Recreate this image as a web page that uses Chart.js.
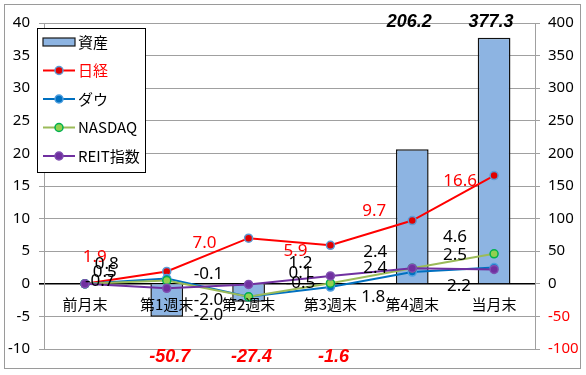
<!DOCTYPE html>
<html>
<head>
<meta charset="utf-8">
<script src="https://cdn.jsdelivr.net/npm/chart.js@4"></script>
<style>
  html, body { margin: 0; padding: 0; background: #fff; }
  canvas { display: block; }
</style>
</head>
<body>
<canvas id="chart" width="586" height="375"></canvas>
<script>
// Datos
const categories = ['前月末', '第1週末', '第2週末', '第3週末', '第4週末', '当月末'];
const assets = [null, -50.7, -27.4, -1.6, 206.2, 377.3];   // 資産 (eje derecho)
const nikkei = [0, 1.9, 7.0, 5.9, 9.7, 16.6];               // 日経
const dow = [0, 0.8, -2.0, -0.5, 1.8, 2.5];                 // ダウ
const nasdaq = [0, 0.5, -2.0, 0.1, 2.4, 4.6];               // NASDAQ
const reit = [0, -0.7, -0.1, 1.2, 2.4, 2.2];                // REIT指数
const leftMin = -10, leftMax = 40, leftStep = 5;
const rightMin = -100, rightMax = 400, rightStep = 50;

// Desplazamiento de etiquetas (solo estilo)
const labelOffsets = [
    [null, [-72, -14], [-44, 5], [-35, 6], [-38, -9], [-34, 6]],
    [null, [-60, -14], [-40, 3], [-30, -4], [-39, 25], [-39, -12]],
    [null, [-62, -8], [-40, 18], [-30, -10], [-37, -16], [-39, -17]],
    [null, [-67, -7], [-40, -10], [-30, -13], [-37, 0], [-35, 17]]
];

const CJK = '"Noto Sans CJK JP", "Noto Sans", sans-serif';
const NUM = '"Noto Sans", "Liberation Sans", sans-serif';

// Marco y fondo
const framePlugin = {
    id: 'frame',
    beforeDraw(chart) {
        const ctx = chart.ctx;
        ctx.save();
        ctx.fillStyle = '#fff';
        ctx.fillRect(0, 0, chart.width, chart.height);
        ctx.strokeStyle = '#9a9a9a';
        ctx.lineWidth = 1;
        ctx.strokeRect(4.5, 4.5, 576, 364);
        ctx.restore();
    }
};

// Etiquetas de categoría sobre la línea del cero
const categoryPlugin = {
    id: 'categoryLabels',
    afterDatasetsDraw(chart) {
        const ctx = chart.ctx;
        const xs = chart.scales.x, ys = chart.scales.y;
        const y0 = ys.getPixelForValue(0);
        ctx.save();
        ctx.font = '15px ' + CJK;
        ctx.fillStyle = '#000';
        ctx.textAlign = 'center';
        ctx.textBaseline = 'middle';
        categories.forEach((c, i) => {
            ctx.fillText(c, xs.getPixelForValue(i), y0 + 20);
        });
        ctx.restore();
    }
};

// Etiquetas de valores
const valuePlugin = {
    id: 'valueLabels',
    afterDatasetsDraw(chart) {
        const ctx = chart.ctx;
        const area = chart.chartArea;
        ctx.save();
        ctx.textAlign = 'center';
        ctx.textBaseline = 'middle';

        // barras: positivas arriba, negativas abajo
        const barMeta = chart.getDatasetMeta(0);
        ctx.font = 'italic bold 18px "Liberation Sans", Arial, sans-serif';
        assets.forEach((v, i) => {
            if (v === null) return;
            const x = barMeta.data[i].x;
            if (v >= 0) {
                ctx.fillStyle = '#000';
                ctx.fillText(v.toFixed(1), x - 3, area.top - 1);
            } else {
                ctx.fillStyle = '#ff0000';
                ctx.fillText(v.toFixed(1), x + 3, area.bottom + 8);
            }
        });

        // líneas
        ctx.font = '17px ' + NUM;
        [1, 2, 3, 4].forEach((di, k) => {
            const meta = chart.getDatasetMeta(di);
            const data = chart.data.datasets[di].data;
            ctx.fillStyle = di === 1 ? '#ff0000' : '#000';
            data.forEach((v, i) => {
                const off = labelOffsets[k][i];
                if (!off) return;
                const p = meta.data[i];
                ctx.fillText(v.toFixed(1), p.x + off[0], p.y + off[1]);
            });
        });
        ctx.restore();
    }
};

// Leyenda dentro del área del gráfico
const legendPlugin = {
    id: 'innerLegend',
    afterDraw(chart) {
        const ctx = chart.ctx;
        ctx.save();
        ctx.fillStyle = '#fff';
        ctx.fillRect(37, 28, 108, 144);
        ctx.strokeStyle = '#000';
        ctx.lineWidth = 1;
        ctx.strokeRect(37.5, 28.5, 108, 144);

        const rows = [0, 1, 2, 3, 4];
        rows.forEach((di, r) => {
            const ds = chart.data.datasets[di];
            const cy = 42 + r * 28.5;
            if (di === 0) {
                ctx.fillStyle = ds.backgroundColor;
                ctx.fillRect(43, cy - 4, 32, 8);
                ctx.strokeStyle = '#1a1a1a';
                ctx.lineWidth = 1.2;
                ctx.strokeRect(43, cy - 4, 32, 8);
            } else {
                ctx.strokeStyle = ds.borderColor;
                ctx.lineWidth = 2;
                ctx.beginPath();
                ctx.moveTo(43, cy);
                ctx.lineTo(75, cy);
                ctx.stroke();
                ctx.beginPath();
                ctx.arc(59, cy, 4, 0, Math.PI * 2);
                ctx.fillStyle = ds.pointBackgroundColor;
                ctx.fill();
                ctx.lineWidth = 1.5;
                ctx.strokeStyle = ds.pointBorderColor;
                ctx.stroke();
            }
            ctx.fillStyle = di === 1 ? '#ff0000' : '#000';
            ctx.font = '15px ' + CJK;
            ctx.textAlign = 'left';
            ctx.textBaseline = 'middle';
            ctx.fillText(ds.label, 78, cy);
        });
        ctx.restore();
    }
};

function lineSet(label, data, color, fill, border, order) {
    return {
        type: 'line',
        label: label,
        data: data,
        yAxisID: 'y',
        borderColor: color,
        borderWidth: 2,
        pointRadius: 4,
        pointBorderWidth: 1.5,
        pointBackgroundColor: fill,
        pointBorderColor: border,
        tension: 0,
        order: order
    };
}

const gridColor = '#a0a0a0';

new Chart(document.getElementById('chart').getContext('2d'), {
    type: 'bar',
    data: {
        labels: categories,
        datasets: [
            {
                type: 'bar',
                label: '資産',
                data: assets,
                yAxisID: 'y2',
                backgroundColor: '#8db4e2',
                borderColor: '#111',
                borderWidth: 1.5,
                barPercentage: 0.4,
                categoryPercentage: 1,
                order: 5
            },
            lineSet('日経', nikkei, '#ff0000', '#e00000', '#5b9bd5', 4),
            lineSet('ダウ', dow, '#0070c0', '#0070c0', '#4f9fe0', 3),
            lineSet('NASDAQ', nasdaq, '#9bbb59', '#92d050', '#00b050', 2),
            lineSet('REIT指数', reit, '#7030a0', '#7030a0', '#7f4fb0', 1)
        ]
    },
    options: {
        responsive: false,
        animation: false,
        devicePixelRatio: 1,
        layout: { padding: { left: 0, right: 0, top: 23, bottom: 26 } },
        plugins: { legend: { display: false }, tooltip: { enabled: false } },
        scales: {
            x: { display: false, offset: true },
            y: {
                position: 'left',
                min: leftMin,
                max: leftMax,
                afterFit: s => { s.width = 44; },
                ticks: { stepSize: leftStep, color: '#000', padding: 9, font: { size: 15, family: NUM } },
                grid: {
                    color: c => c.tick && c.tick.value === 0 ? '#000' : gridColor,
                    tickColor: c => c.tick && c.tick.value === 0 ? '#000' : gridColor,
                    lineWidth: c => c.tick && c.tick.value === 0 ? 1.6 : 1,
                    tickLength: 5
                },
                border: { color: gridColor }
            },
            y2: {
                position: 'right',
                min: rightMin,
                max: rightMax,
                afterFit: s => { s.width = 51; },
                ticks: {
                    stepSize: rightStep,
                    color: c => c.tick && c.tick.value < 0 ? '#ff0000' : '#000',
                    padding: 8,
                    font: { size: 15, family: NUM }
                },
                grid: { drawOnChartArea: false, tickLength: 5, tickColor: gridColor },
                border: { color: gridColor }
            }
        }
    },
    plugins: [framePlugin, categoryPlugin, valuePlugin, legendPlugin]
});
</script>
</body>
</html>
